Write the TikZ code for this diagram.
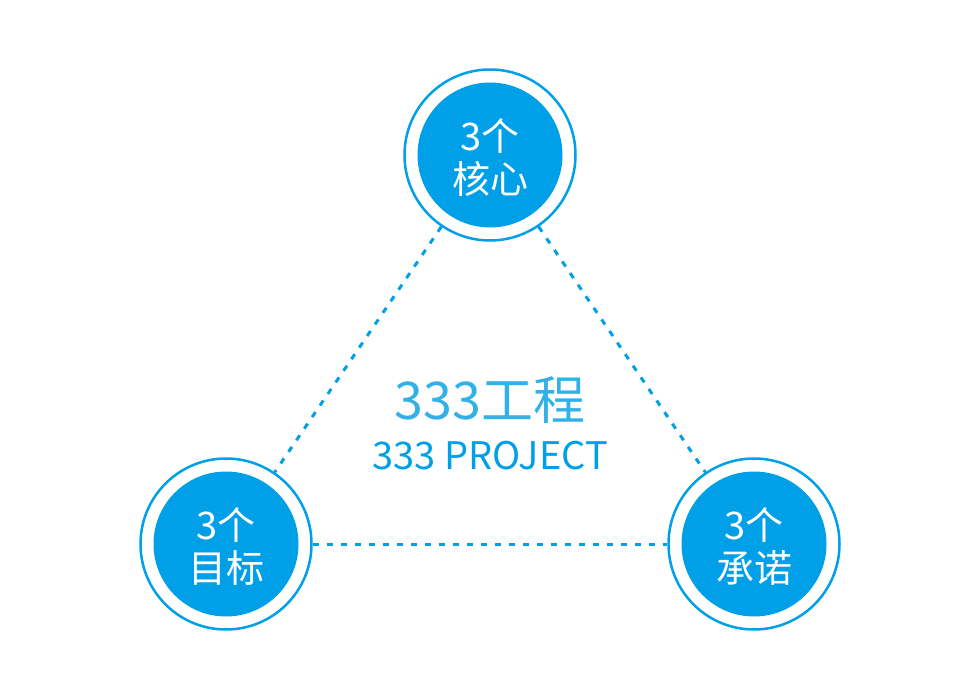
\documentclass[tikz,border=0pt]{standalone}
\usepackage{fontspec}
\setmainfont{Noto Sans CJK SC}
\definecolor{mainblue}{RGB}{0,160,233}
\definecolor{lightblue}{RGB}{50,176,232}
\begin{document}
\begin{tikzpicture}[x=1pt,y=-1pt,
  ring/.style={circle,draw=mainblue,line width=2.5pt,minimum size=171pt,inner sep=0pt},
  core/.style={circle,fill=mainblue,minimum size=145pt,inner sep=0pt},
  label/.style={text=white,align=center,font=\fontsize{38}{43}\selectfont},
  link/.style={draw=mainblue,line width=3pt,dash pattern=on 6pt off 8pt}]
\useasboundingbox (0,0) rectangle (980,700);
\node[ring] (top) at (490,155) {};
\node[core] (topc) at (490,155) {};
\node[label] (topt) at (490,158) {3个\\核心};
\node[ring] (bl) at (226,544) {};
\node[core] (blc) at (226,544) {};
\node[label] (blt) at (226,547) {3个\\目标};
\node[ring] (br) at (754,544) {};
\node[core] (brc) at (754,544) {};
\node[label] (brt) at (754,547) {3个\\承诺};
\draw[link] (top) -- (bl);
\draw[link] (top) -- (br);
\draw[link] (bl) -- (br);
\node[text=lightblue,font=\fontsize{52}{56}\selectfont] (title) at (490,400) {333工程};
\node[text=mainblue,font=\fontsize{38}{42}\selectfont] (sub) at (490,456) {333 PROJECT};
\end{tikzpicture}
\end{document}
